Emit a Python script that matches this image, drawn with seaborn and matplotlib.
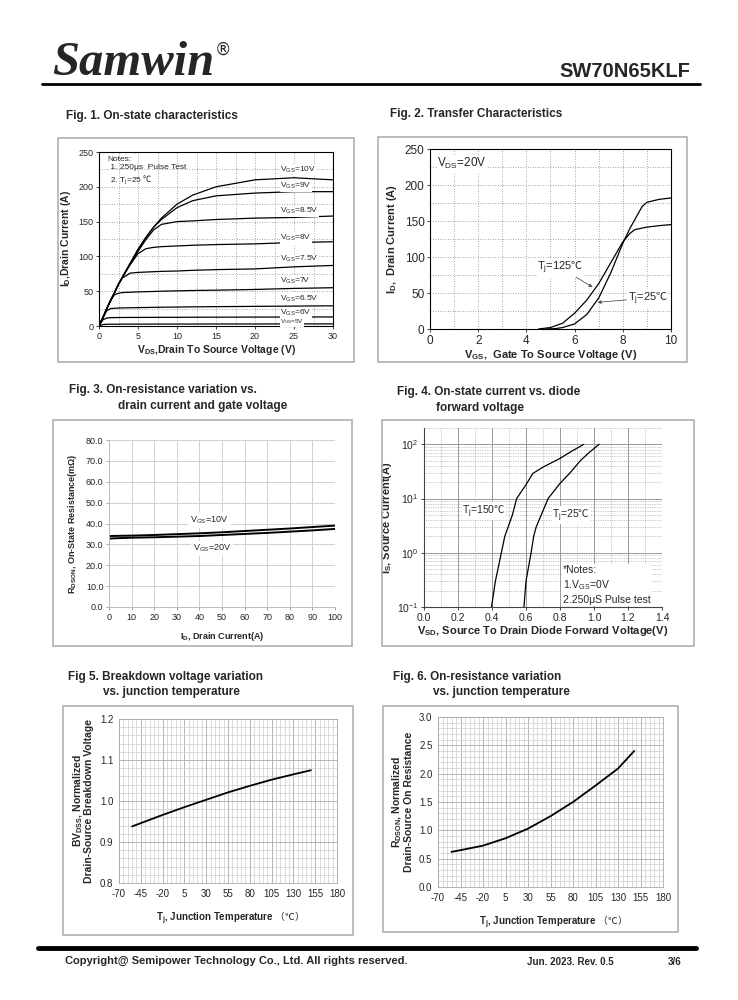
import pandas as pd
import seaborn as sns
import matplotlib.pyplot as plt
from matplotlib.patches import Rectangle
from matplotlib.lines import Line2D
from matplotlib.ticker import MultipleLocator, LogLocator, NullFormatter, FormatStrFormatter

# ---- Fig 1: on-state characteristics ----
vds = [0, 0.5, 1, 1.5, 2, 2.5, 3, 4, 5, 6, 7, 8, 10, 12, 15, 20, 25, 30]
id_vgs = {
    '10V': [0, 12, 25, 37, 48, 60, 70, 90, 110, 127, 142, 155, 175, 188, 200, 210, 213, 210],
    '9V': [0, 12, 25, 37, 48, 60, 70, 90, 110, 127, 142, 153, 170, 180, 187, 191, 193, 193],
    '8.5V': [0, 12, 25, 37, 48, 60, 70, 90, 107, 124, 138, 146, 150, 151, 153, 155, 156, 158],
    '8V': [0, 12, 25, 37, 48, 60, 70, 88, 104, 111, 113, 114, 115, 116, 117, 118, 120, 121],
    '7.5V': [0, 12, 25, 37, 48, 60, 69, 76, 77, 77.5, 78, 78.5, 79, 80, 81, 82, 85, 87],
    '7V': [0, 12, 25, 37, 45, 47, 48, 48.5, 49, 49.3, 49.6, 50, 50.5, 51, 51.5, 52.5, 54, 55],
    '6.5V': [0, 12, 22, 25, 25.5, 25.8, 26, 26.2, 26.4, 26.6, 26.8, 27, 27.2, 27.5, 27.8, 28.2, 28.6, 29],
    '6V': [0, 9, 11.5, 12, 12.1, 12.2, 12.2, 12.3, 12.3, 12.4, 12.4, 12.5, 12.5, 12.6, 12.7, 12.8, 12.9, 13],
    '5V': [0, 2, 2.5, 2.6, 2.6, 2.6, 2.7, 2.7, 2.7, 2.7, 2.8, 2.8, 2.8, 2.8, 2.9, 2.9, 3, 3],
}
vgs_label_y = {'10V': 224, '9V': 201, '8.5V': 165, '8V': 126, '7.5V': 96,
               '7V': 65, '6.5V': 39, '6V': 19, '5V': 6}

# ---- Fig 2: transfer characteristics ----
vgs_125 = [4.5, 5, 5.5, 6, 6.5, 7, 7.5, 8, 8.3, 8.5, 9, 9.5, 10]
id_125 = [0, 2, 8, 22, 40, 63, 92, 121, 133, 138, 141.5, 143.5, 145]
vgs_25 = [4.8, 5.2, 5.5, 6, 6.5, 7, 7.5, 8, 8.3, 8.6, 8.8, 9, 9.5, 10]
id_25 = [0, 0.5, 2, 7, 20, 43, 78, 119, 140, 158, 170, 176, 180, 182]

# ---- Fig 3: Rdson vs drain current ----
id_a = [0, 10, 20, 30, 40, 50, 60, 70, 80, 90, 100]
rds_10v = [34.0, 34.2, 34.5, 34.9, 35.3, 35.8, 36.4, 37.0, 37.6, 38.3, 39.0]
rds_20v = [32.8, 33.2, 33.4, 33.7, 34.0, 34.5, 35.0, 35.5, 36.1, 36.7, 37.4]

# ---- Fig 4: diode forward voltage ----
vsd_150 = [0.397, 0.42, 0.455, 0.475, 0.495, 0.52, 0.545, 0.60, 0.64, 0.70, 0.80, 0.87, 0.94]
is_150 = [0.1, 0.3, 1, 2, 3, 5, 10, 18, 29, 38, 55, 75, 100]
vsd_25 = [0.588, 0.60, 0.63, 0.645, 0.66, 0.69, 0.73, 0.80, 0.86, 0.92, 0.97, 1.03]
is_25 = [0.1, 0.3, 1, 2, 3, 5, 10, 19, 30, 50, 70, 100]

# ---- Fig 5 / Fig 6: vs junction temperature ----
tj_bv = [-55, -45, -20, 5, 30, 55, 80, 105, 130, 150]
bv_norm = [0.938, 0.946, 0.966, 0.985, 1.003, 1.021, 1.037, 1.052, 1.065, 1.075]
tj_rds = [-55, -45, -20, 5, 30, 55, 80, 105, 130, 148]
rds_norm = [0.62, 0.65, 0.73, 0.86, 1.03, 1.25, 1.50, 1.79, 2.09, 2.40]
temp_ticks = [-70, -45, -20, 5, 30, 55, 80, 105, 130, 155, 180]

sns.set_style('ticks')
plt.rcParams['font.family'] = ['Liberation Sans', 'DejaVu Sans', 'Noto Sans CJK SC']
plt.rcParams['mathtext.default'] = 'regular'
plt.rcParams['mathtext.fontset'] = 'custom'
plt.rcParams['mathtext.rm'] = 'Noto Sans CJK SC'
plt.rcParams['axes.unicode_minus'] = False

DEG = r'$\mathrm{℃}$'

W, H = 738, 1000
fig = plt.figure(figsize=(7.38, 10), dpi=100)


def box(px_left, px_top, px_right, px_bottom):
    return [px_left / W, 1 - px_bottom / H, (px_right - px_left) / W, (px_bottom - px_top) / H]


def ftext(x, y, s, **kw):
    fig.text(x / W, 1 - y / H, s, **kw)


def frame(l, t, r, b):
    fig.patches.append(Rectangle((l / W, 1 - b / H), (r - l) / W, (b - t) / H,
                                 transform=fig.transFigure, fill=False,
                                 edgecolor='#b0b0b0', lw=1.2))


# header / footer
ftext(52, 75, 'Samwin', family='Liberation Serif', weight='bold', style='italic',
      fontsize=35, va='baseline')
ftext(215, 50, '®', family='DejaVu Sans', fontsize=12, va='center')
ftext(690, 77, 'SW70N65KLF', weight='bold', fontsize=14.5, ha='right', va='baseline')
fig.add_artist(Line2D([42 / W, 700 / W], [1 - 84 / H, 1 - 84 / H], color='black', lw=2))
fig.add_artist(Line2D([38 / W, 696 / W], [1 - 948 / H, 1 - 948 / H], color='black', lw=3.5))
ftext(65, 961, 'Copyright@ Semipower Technology Co., Ltd. All rights reserved.',
      weight='bold', fontsize=8, va='center')
ftext(527, 962, 'Jun. 2023. Rev. 0.5', weight='bold', fontsize=7, va='center')
ftext(668, 962, '3/6', weight='bold', fontsize=7, va='center')

# titles
tkw = dict(weight='bold', fontsize=8.5, va='center')
ftext(66, 116, 'Fig. 1. On-state characteristics', **tkw)
ftext(390, 114, 'Fig. 2. Transfer Characteristics', **tkw)
ftext(69, 390, 'Fig. 3. On-resistance variation vs.', **tkw)
ftext(118, 406, 'drain current and gate voltage', **tkw)
ftext(397, 392, 'Fig. 4. On-state current vs. diode', **tkw)
ftext(436, 408, 'forward voltage', **tkw)
ftext(68, 677, 'Fig 5. Breakdown voltage variation', **tkw)
ftext(103, 692, 'vs. junction temperature', **tkw)
ftext(393, 677, 'Fig. 6. On-resistance variation', **tkw)
ftext(433, 692, 'vs. junction temperature', **tkw)

# frames
frame(58, 138, 354, 362)
frame(378, 137, 687, 362)
frame(53, 420, 352, 646)
frame(382, 420, 694, 646)
frame(63, 706, 353, 935)
frame(383, 706, 678, 932)


def style_axes(ax, spine_color='black', lw=0.8):
    for s in ax.spines.values():
        s.set_visible(True)
        s.set_color(spine_color)
        s.set_linewidth(lw)


# ---------- Fig 1 ----------
ax1 = fig.add_axes(box(99, 152, 333, 326))
for name, vals in id_vgs.items():
    sns.lineplot(x=vds, y=vals, ax=ax1, color='black', lw=0.9)
ax1.set_xlim(0, 30)
ax1.set_ylim(0, 250)
ax1.xaxis.set_major_locator(MultipleLocator(5))
ax1.yaxis.set_major_locator(MultipleLocator(50))
ax1.xaxis.set_minor_locator(MultipleLocator(2.5))
ax1.yaxis.set_minor_locator(MultipleLocator(25))
ax1.grid(which='both', color='#888888', ls=(0, (1, 2)), lw=0.6)
ax1.tick_params(labelsize=6.5, length=2, width=0.6, pad=2)
ax1.tick_params(which='minor', length=0)
ax1.set_xlabel('V$_{DS}$,Drain To Source Voltage (V)', weight='bold', fontsize=7.5, labelpad=2)
ax1.set_ylabel('I$_D$,Drain Current (A)', weight='bold', fontsize=7.5, labelpad=4)
style_axes(ax1)
for name, yv in vgs_label_y.items():
    fs = 4.5 if name == '5V' else 6
    ax1.text(23.2, yv, 'V$_{GS}$=' + name, fontsize=fs, va='center', ha='left',
             bbox=dict(facecolor='white', edgecolor='none', pad=0.3))
ax1.text(1.1, 244, 'Notes:\n 1. 250μs  Pulse Test\n 2. T$_j$=25 ' + DEG, fontsize=6,
         va='top', ha='left', linespacing=1.25)

# ---------- Fig 2 ----------
ax2 = fig.add_axes(box(430, 149, 671, 329))
sns.lineplot(x=vgs_125, y=id_125, ax=ax2, color='black', lw=0.9)
sns.lineplot(x=vgs_25, y=id_25, ax=ax2, color='black', lw=0.9)
ax2.set_xlim(0, 10)
ax2.set_ylim(0, 250)
ax2.xaxis.set_major_locator(MultipleLocator(2))
ax2.yaxis.set_major_locator(MultipleLocator(50))
ax2.xaxis.set_minor_locator(MultipleLocator(1))
ax2.yaxis.set_minor_locator(MultipleLocator(25))
ax2.grid(which='both', color='#888888', ls=(0, (1, 2)), lw=0.6)
ax2.tick_params(labelsize=8.5, length=2, width=0.6, pad=2)
ax2.tick_params(which='minor', length=0)
ax2.set_xlabel('V$_{GS}$,  Gate To Source Voltage (V)', weight='bold', fontsize=8, labelpad=1)
ax2.set_ylabel('I$_D$,  Drain Current (A)', weight='bold', fontsize=8, labelpad=4)
style_axes(ax2)
ax2.text(0.3, 230, 'V$_{DS}$=20V', fontsize=8.5, va='center',
         bbox=dict(facecolor='white', edgecolor='none', pad=0.5))
ax2.annotate('T$_j$=125' + DEG, xy=(6.75, 58), xytext=(4.45, 85), fontsize=8, va='center',
             arrowprops=dict(arrowstyle='-|>', color='#555555', lw=0.6, mutation_scale=5,
                             shrinkA=0, shrinkB=0),
             bbox=dict(facecolor='white', edgecolor='none', pad=0.3))
ax2.annotate('T$_j$=25' + DEG, xy=(6.95, 37), xytext=(8.2, 43), fontsize=8, va='center',
             arrowprops=dict(arrowstyle='-|>', color='#555555', lw=0.6, mutation_scale=5,
                             shrinkA=0, shrinkB=0),
             bbox=dict(facecolor='white', edgecolor='none', pad=0.3))

# ---------- Fig 3 ----------
ax3 = fig.add_axes(box(109, 440, 335, 607))
sns.lineplot(x=id_a, y=rds_10v, ax=ax3, color='black', lw=1.4)
sns.lineplot(x=id_a, y=rds_20v, ax=ax3, color='black', lw=1.4)
ax3.set_xlim(0, 100)
ax3.set_ylim(0, 80)
ax3.xaxis.set_major_locator(MultipleLocator(10))
ax3.yaxis.set_major_locator(MultipleLocator(10))
ax3.yaxis.set_major_formatter(FormatStrFormatter('%.1f'))
ax3.grid(which='major', color='#d0d0d0', lw=0.7)
ax3.tick_params(labelsize=6.5, length=2, width=0.6, pad=2, color='#999999')
ax3.set_xlabel('I$_D$, Drain Current(A)', weight='bold', fontsize=6.5, labelpad=6)
ax3.set_ylabel('R$_{DSON}$, On-State Resistance(mΩ)', weight='bold', fontsize=6.5, labelpad=5)
style_axes(ax3, '#bbbbbb', 0.7)
ax3.spines['top'].set_visible(False)
ax3.spines['right'].set_visible(False)
ax3.text(36, 41.7, 'V$_{GS}$=10V', fontsize=6.5, va='center', ha='left',
         bbox=dict(facecolor='white', edgecolor='none', pad=1.5))
ax3.text(37, 28.0, 'V$_{GS}$=20V', fontsize=6.5, va='center', ha='left',
         bbox=dict(facecolor='white', edgecolor='none', pad=1.5))

# ---------- Fig 4 ----------
ax4 = fig.add_axes(box(424, 428, 662, 607))
ax4.set_yscale('log')
sns.lineplot(x=vsd_150, y=is_150, ax=ax4, color='black', lw=0.9)
sns.lineplot(x=vsd_25, y=is_25, ax=ax4, color='black', lw=0.9)
ax4.set_xlim(0, 1.4)
ax4.set_ylim(0.1, 200)
ax4.xaxis.set_major_locator(MultipleLocator(0.2))
ax4.xaxis.set_minor_locator(MultipleLocator(0.1))
ax4.yaxis.set_major_locator(LogLocator(base=10, numticks=10))
ax4.yaxis.set_minor_locator(LogLocator(base=10, subs=[2, 3, 4, 5, 6, 7, 8, 9], numticks=10))
ax4.yaxis.set_minor_formatter(NullFormatter())
ax4.grid(which='major', color='#999999', lw=0.7)
ax4.grid(which='minor', color='#999999', ls=(0, (1, 1.5)), lw=0.5)
ax4.tick_params(labelsize=7.5, length=2, width=0.6, pad=2)
ax4.tick_params(which='minor', length=0)
ax4.set_xlabel('V$_{SD}$, Source To Drain Diode Forward Voltage(V)', weight='bold', fontsize=8,
               labelpad=1)
ax4.set_ylabel('I$_S$, Source Current(A)', weight='bold', fontsize=8, labelpad=2)
style_axes(ax4, '#444444', 0.8)
ax4.spines['top'].set_visible(False)
ax4.spines['right'].set_visible(False)
ax4.text(0.225, 5.8, 'T$_j$=150' + DEG, fontsize=7.5, va='center',
         bbox=dict(facecolor='white', edgecolor='none', pad=0.2))
ax4.text(0.755, 4.9, 'T$_j$=25' + DEG, fontsize=7.5, va='center',
         bbox=dict(facecolor='white', edgecolor='none', pad=0.2))
ax4.text(0.815, 0.6, '*Notes:\n1.V$_{GS}$=0V\n2.250μS Pulse test', fontsize=7.5, va='top',
         linespacing=1.35, bbox=dict(facecolor='white', edgecolor='none', pad=0.5))

# ---------- Fig 5 ----------
ax5 = fig.add_axes(box(119, 719, 337, 883))
sns.lineplot(x=tj_bv, y=bv_norm, ax=ax5, color='black', lw=1.3)
ax5.set_xlim(-70, 180)
ax5.set_ylim(0.8, 1.2)
ax5.set_xticks(temp_ticks)
ax5.xaxis.set_minor_locator(MultipleLocator(5))
ax5.yaxis.set_major_locator(MultipleLocator(0.1))
ax5.yaxis.set_minor_locator(MultipleLocator(0.02))
ax5.yaxis.set_major_formatter(FormatStrFormatter('%.1f'))
ax5.grid(which='major', color='#aaaaaa', lw=0.6)
ax5.grid(which='minor', color='#cccccc', lw=0.5)
ax5.tick_params(labelsize=7, length=0, pad=4)
ax5.tick_params(which='minor', length=0)
ax5.set_xlabel('T$_j$, Junction Temperature ' + r'$\mathrm{（℃）}$', weight='bold',
               fontsize=7, labelpad=8)
ax5.set_ylabel('BV$_{DSS}$, Normalized\nDrain-Source Breakdown Voltage', weight='bold',
               fontsize=7.5, labelpad=4, linespacing=0.95)
style_axes(ax5, '#aaaaaa', 0.6)

# ---------- Fig 6 ----------
ax6 = fig.add_axes(box(438, 717, 663, 887))
sns.lineplot(x=tj_rds, y=rds_norm, ax=ax6, color='black', lw=1.3)
ax6.set_xlim(-70, 180)
ax6.set_ylim(0, 3)
ax6.set_xticks(temp_ticks)
ax6.xaxis.set_minor_locator(MultipleLocator(5))
ax6.yaxis.set_major_locator(MultipleLocator(0.5))
ax6.yaxis.set_minor_locator(MultipleLocator(0.1))
ax6.yaxis.set_major_formatter(FormatStrFormatter('%.1f'))
ax6.grid(which='major', color='#aaaaaa', lw=0.6)
ax6.grid(which='minor', color='#cccccc', lw=0.5)
ax6.tick_params(labelsize=7, length=0, pad=4)
ax6.tick_params(which='minor', length=0)
ax6.set_xlabel('T$_j$, Junction Temperature ' + r'$\mathrm{（℃）}$', weight='bold',
               fontsize=7, labelpad=8)
ax6.set_ylabel('R$_{DSON}$, Normalized\nDrain-Source On Resistance', weight='bold',
               fontsize=7.5, labelpad=4, linespacing=0.95)
style_axes(ax6, '#aaaaaa', 0.6)

for ax in (ax1, ax2, ax3, ax4, ax5, ax6):
    ax.set_axisbelow(True)
    ax.set_facecolor('white')

fig.savefig('out.png', dpi=100)
